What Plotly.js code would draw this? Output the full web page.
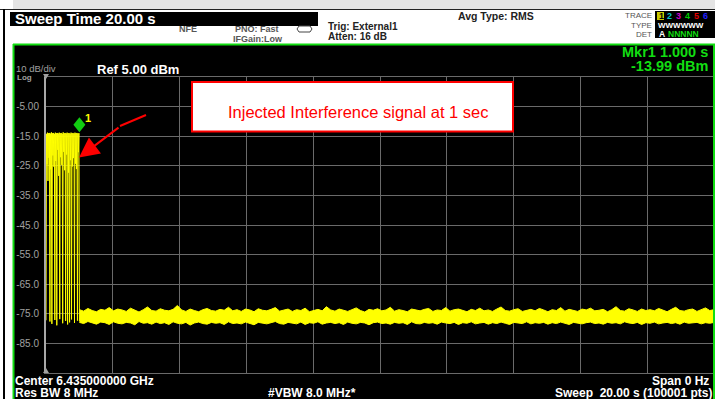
<!DOCTYPE html>
<html><head><meta charset="utf-8">
<script src="https://cdn.plot.ly/plotly-3.0.1.min.js"></script>
<style>html,body{margin:0;padding:0;background:#000;overflow:hidden}#chart{width:715px;height:399px}</style>
</head><body><div id="chart"></div>
<script>
// ---------- data ----------
const yTickValues = [-5, -15, -25, -35, -45, -55, -65, -75, -85];
const yTickLabels = ['-5.00', '-15.0', '-25.0', '-35.0', '-45.0', '-55.0', '-65.0', '-75.0', '-85.0'];
const sweepSeconds = 20;
const burstEndSeconds = 1.0;
// trace level (dBm) across the interference burst, 0 .. 1 s
const burstLevels = [-77.2, -14.2, -24.5, -13.8, -30.1, -14.0, -22.3, -13.9, -77.6, -14.1, -26.2, -13.7, -78.4, -14.0, -21.5, -13.9, -25.3, -14.2, -77.1, -13.8, -23.4, -14.0, -78.9, -13.9, -19.6, -14.1, -28.4, -13.8, -76.8, -14.0, -22.1, -13.9, -24.7, -14.2, -78.2, -13.7, -20.3, -14.0, -26.5, -13.9, -77.4, -14.1, -21.2, -13.8, -78.6, -14.0, -27.3, -13.9, -77.9, -14.2, -23.1, -13.8, -76.9, -14.0, -25.2, -13.9, -22.4, -14.1, -78.1, -13.8, -24.3, -14.0, -26.1, -13.9, -77.3, -14.1, -20.4, -13.99, -77.5];
// noise floor after the burst, 1 .. 20 s : upper and lower edge of the displayed band (dBm)
const floorUpper = [
-73.6,-74.1,-73.2,-73.9,-74.3,-73.5,-73.8,-72.9,-74.0,-73.4,
-73.7,-74.2,-73.1,-73.8,-74.4,-73.6,-72.7,-73.9,-74.1,-73.3,
-73.8,-74.0,-73.5,-72.2,-73.7,-74.2,-73.4,-73.9,-74.3,-73.6,
-73.2,-73.9,-74.1,-73.5,-73.8,-72.8,-74.0,-73.6,-74.2,-73.4,
-73.7,-74.3,-73.3,-73.8,-74.0,-73.5,-72.9,-74.1,-73.7,-73.4,
-74.2,-73.6,-73.9,-73.1,-74.3,-73.8,-73.5,-74.0,-72.6,-73.7,
-74.1,-73.4,-73.8,-74.2,-73.6,-73.0,-73.9,-74.4,-73.5,-73.8,
-73.3,-74.0,-73.7,-72.8,-74.1,-73.6,-73.9,-74.3,-73.4,-73.8,
-74.0,-73.5,-73.2,-74.2,-73.7,-73.9,-72.9,-74.1,-73.6,-73.4,
-73.8,-74.3,-73.5,-73.9,-73.1,-74.0,-73.7,-74.2,-73.4,-72.7,
-73.9,-74.1,-73.6,-73.3,-74.2,-73.8,-73.5,-74.0,-73.2,-73.7,
-74.3,-73.6,-73.9,-72.9,-74.1,-73.5,-73.8,-74.2,-73.4,-73.7,
-73.1,-74.0,-73.8,-73.5,-74.3,-73.6,-72.6,-73.9,-74.1,-73.3,
-73.7,-74.2,-73.4,-73.9,-73.6,-74.0,-73.2,-73.8,-74.3,-73.5,
-72.8,-73.9,-74.1,-73.6,-73.4,-74.2,-73.7,-73.0,-73.9,-73.6];
const floorLower = [
-77.9,-78.3,-77.6,-78.1,-78.5,-77.8,-78.0,-78.6,-77.7,-78.2,
-78.4,-77.9,-78.1,-78.7,-77.6,-78.2,-78.0,-78.5,-77.8,-78.3,
-78.0,-78.6,-77.7,-78.2,-78.4,-77.9,-78.8,-78.1,-77.8,-78.3,
-78.5,-77.9,-78.2,-78.0,-78.6,-77.7,-78.3,-78.1,-78.4,-77.8,
-78.2,-78.7,-77.9,-78.1,-78.4,-78.0,-77.6,-78.3,-78.5,-77.9,
-78.1,-78.4,-77.8,-78.6,-78.0,-78.2,-77.7,-78.5,-78.1,-77.9,
-78.3,-78.0,-78.6,-77.8,-78.2,-78.4,-77.9,-78.1,-78.7,-78.0,
-77.8,-78.3,-78.1,-78.5,-77.9,-78.2,-78.0,-78.6,-77.7,-78.3,
-78.4,-77.9,-78.2,-78.0,-78.5,-77.8,-78.1,-78.3,-77.9,-78.6,
-78.0,-78.2,-77.7,-78.4,-78.1,-77.9,-78.5,-78.0,-78.3,-77.8,
-78.2,-78.6,-77.9,-78.1,-78.3,-77.7,-78.4,-78.0,-78.2,-77.9,
-78.5,-78.0,-78.3,-77.8,-78.1,-78.6,-77.9,-78.2,-78.4,-78.0,
-77.8,-78.3,-78.1,-78.5,-77.9,-78.2,-78.0,-78.4,-77.7,-78.1,
-78.3,-77.9,-78.6,-78.0,-78.2,-77.8,-78.4,-78.1,-77.9,-78.3,
-78.0,-78.5,-77.8,-78.2,-78.1,-77.9,-78.4,-78.0,-78.2,-77.9];
const markerTime = [1.0];
const markerLevel = [-13.99];

// ---------- sample times (evenly spaced sweep points) ----------
const burstTimes = burstLevels.map((_, i) => i * burstEndSeconds / (burstLevels.length - 1));
const floorTimes = floorUpper.map((_, i) => burstEndSeconds + i * (sweepSeconds - burstEndSeconds) / (floorUpper.length - 1));

// ---------- geometry helpers (pixel -> paper) ----------
const L = 46, R = 714, T = 77, B = 373;
const px = x => (x - L) / (R - L);
const py = y => (B - y) / (B - T);
const FONT = 'Liberation Sans, Arial, sans-serif';
const YEL = '#ffff00', GRN = '#12dd12';

function rect(x0, y0, x1, y1, fill, line, layer) {
  return {type: 'rect', xref: 'paper', yref: 'paper', x0: px(x0), x1: px(x1), y0: py(y0), y1: py(y1),
    fillcolor: fill, line: line || {width: 0}, layer: layer || 'below'};
}
function seg(x0, y0, x1, y1, color, width) {
  return {type: 'line', xref: 'paper', yref: 'paper', x0: px(x0), x1: px(x1), y0: py(y0), y1: py(y1),
    line: {color: color, width: width}, layer: 'above'};
}
function txt(s, x, y, size, color, anchor, bold) {
  return {xref: 'paper', yref: 'paper', x: px(x), y: py(y), text: s, showarrow: false,
    xanchor: anchor || 'left', yanchor: 'middle', borderpad: 0,
    font: {family: FONT, size: size, color: color, weight: bold ? 'bold' : 'normal'}};
}

const shapes = [
  rect(0, 0, 715, 44, '#ffffff'),
  rect(0, 0, 715, 9, '#e4e4e4'),
  rect(0, 0, 13, 399, '#ffffff'),
  seg(0, 9.5, 715, 9.5, '#222', 1),
  rect(3, 9, 5, 399, '#000000', null, 'above'),
  rect(10, 12, 318, 26, '#000000'),
  rect(655, 11, 715, 38, '#000000'),
  rect(657, 12, 664, 20, '#c8c800'),
  // green frame
  seg(13.5, 44, 13.5, 399, '#11dd11', 2),
  seg(13, 44.5, 715, 44.5, '#11dd11', 2),
  seg(714, 44, 714, 399, '#11dd11', 2),
  // PNO icon
  {type: 'path', xref: 'paper', yref: 'paper', layer: 'above', line: {color: '#444', width: 1},
   path: 'M' + px(299) + ',' + py(26) + ' L' + px(310) + ',' + py(26) + ' L' + px(312) + ',' + py(29) + ' L' + px(310) + ',' + py(32) + ' L' + px(299) + ',' + py(32) + ' L' + px(297) + ',' + py(29) + ' Z'},
  // axis end triangles
  {type: 'path', xref: 'paper', yref: 'paper', layer: 'above', fillcolor: '#a0a0a0', line: {width: 0},
   path: 'M' + px(43) + ',' + py(74) + ' L' + px(49) + ',' + py(74) + ' L' + px(46) + ',' + py(79) + ' Z'},
  {type: 'path', xref: 'paper', yref: 'paper', layer: 'above', fillcolor: '#a0a0a0', line: {width: 0},
   path: 'M' + px(43) + ',' + py(373) + ' L' + px(49) + ',' + py(373) + ' L' + px(46) + ',' + py(368) + ' Z'},
  // callout box
  rect(192, 82, 513, 131.5, '#ffffff', {color: '#ff0000', width: 2}, 'above'),
  seg(146, 115, 120, 126, '#ff0000', 2),
  // marker diamond above the marked point
  {type: 'path', xref: 'x', yref: 'y', xsizemode: 'pixel', ysizemode: 'pixel',
   xanchor: markerTime[0], yanchor: markerLevel[0], layer: 'above',
   fillcolor: '#11cc11', line: {width: 0},
   path: 'M0,1 L6,8.5 L0,16 L-6,8.5 Z'}
];

const annotations = [
  txt('Sweep Time 20.00 s', 14, 19, 15, '#ffffff', 'left', true),
  txt('NFE', 178, 29, 9, '#555', 'left', true),
  txt('PNO: Fast', 234, 29, 9, '#555', 'left', true),
  txt('IFGain:Low', 232, 38.5, 9, '#555', 'left', true),
  txt('Trig: External1', 327, 26.5, 10, '#222', 'left', true),
  txt('Atten: 16 dB', 327, 36.5, 10, '#222', 'left', true),
  txt('Avg Type: RMS', 457, 16, 10.5, '#222', 'left', true),
  txt('TRACE', 653, 16, 8, '#555', 'right'),
  txt('TYPE', 653, 25, 8, '#555', 'right'),
  txt('DET', 653, 34, 8, '#555', 'right'),
  txt('1', 658, 16, 9, '#000', 'left', true),
  txt('2', 666, 16, 9, '#00c8c8', 'left', true),
  txt('3', 675, 16, 9, '#c800c8', 'left', true),
  txt('4', 684, 16, 9, '#00c800', 'left', true),
  txt('5', 693, 16, 9, '#e00000', 'left', true),
  txt('6', 702, 16, 9, '#2020ff', 'left', true),
  txt('WWWWWW', 657, 25, 8, '#ffffff', 'left', true),
  txt('A', 658, 34, 8.5, '#ffffff', 'left', true),
  txt('NNNNN', 667, 34, 8.5, '#11dd11', 'left', true),
  txt('Mkr1 1.000 s', 709, 52, 14.5, GRN, 'right', true),
  txt('-13.99 dBm', 709, 66, 14.5, GRN, 'right', true),
  txt('10 dB/div', 15, 68.5, 9.5, '#a0a0a0', 'left'),
  txt('Log', 16, 77, 8, '#a0a0a0', 'left', true),
  txt('Ref 5.00 dBm', 96, 69, 13, '#ffffff', 'left', true),
  txt('Center 6.435000000 GHz', 14, 380.5, 12, '#ffffff', 'left', true),
  txt('Res BW 8 MHz', 14, 392.5, 12, '#ffffff', 'left', true),
  txt('#VBW 8.0 MHz*', 267, 392.5, 12, '#ffffff', 'left', true),
  txt('Span 0 Hz', 710, 380.5, 12, '#ffffff', 'right', true),
  txt('Sweep\u00a0\u00a020.00 s (100001 pts)', 713, 392.5, 12, '#ffffff', 'right', true),
  txt('Injected Interference signal at 1 sec', 358.5, 112, 16.5, '#ff0000', 'center'),
  {xref: 'paper', yref: 'paper', x: px(79), y: py(157.5), ax: 41, ay: -31, axref: 'pixel', ayref: 'pixel',
   text: '', showarrow: true, arrowhead: 2, arrowsize: 2, arrowwidth: 2, arrowcolor: '#ff0000'},
  {xref: 'x', yref: 'y', x: markerTime[0], y: markerLevel[0], xshift: 9, yshift: 15, text: '1', showarrow: false,
   font: {family: FONT, size: 11, color: YEL, weight: 'bold'}}
];

const traces = [
  {x: burstTimes, y: burstLevels, type: 'scatter', mode: 'lines', line: {color: YEL, width: 1}, hoverinfo: 'skip'},
  {x: floorTimes, y: floorLower, type: 'scatter', mode: 'lines', line: {color: YEL, width: 1}, hoverinfo: 'skip'},
  {x: floorTimes, y: floorUpper, type: 'scatter', mode: 'lines', fill: 'tonexty', fillcolor: YEL,
   line: {color: YEL, width: 1}, hoverinfo: 'skip'}
];

const layout = {
  width: 715, height: 399,
  margin: {l: L, r: 715 - R, t: T, b: 399 - B, pad: 0},
  paper_bgcolor: '#000000', plot_bgcolor: '#000000',
  showlegend: false,
  xaxis: {range: [0, sweepSeconds], dtick: 2, tick0: 0, showticklabels: false, ticks: '',
    showgrid: true, gridcolor: '#6a6a6a', gridwidth: 1, zeroline: false,
    showline: true, mirror: true, linecolor: '#6a6a6a', linewidth: 1, fixedrange: true},
  yaxis: {range: [-95, 5], tickvals: yTickValues, ticktext: yTickLabels, ticks: '',
    showgrid: true, gridcolor: '#6a6a6a', gridwidth: 1, zeroline: false,
    showline: true, linecolor: '#a8a8a8', linewidth: 2, ticklabelstandoff: 3,
    tickfont: {family: FONT, size: 10, color: '#a0a0a0'}, fixedrange: true},
  shapes: shapes,
  annotations: annotations
};

Plotly.newPlot('chart', traces, layout, {staticPlot: true, displayModeBar: false});
</script>
</body></html>
